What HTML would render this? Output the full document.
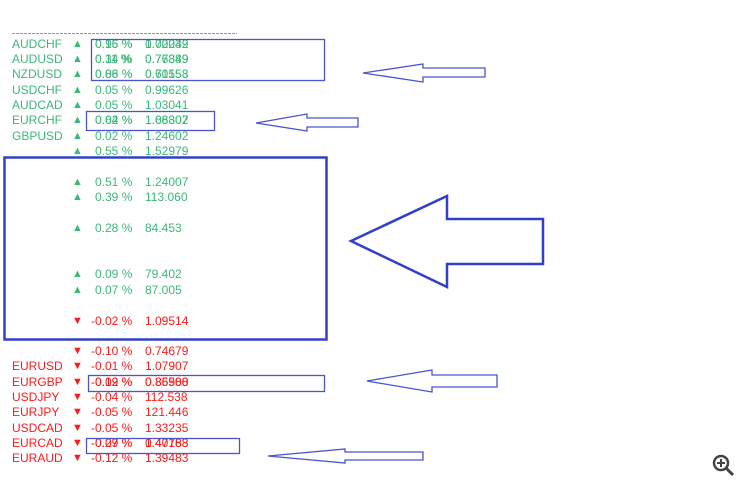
<!DOCTYPE html>
<html><head><meta charset="utf-8"><style>
body{margin:0;width:750px;height:492px;background:#fff;position:relative;overflow:hidden;font-family:"Liberation Sans",sans-serif;font-size:12px}
.t{position:absolute;white-space:pre;line-height:14px}
.g{color:#3cb878}.r{color:#ff1a1a}
</style></head><body>
<div id="c"></div>
<svg width="750" height="492" style="position:absolute;left:0;top:0" fill="none">
<line x1="12" y1="33.5" x2="237" y2="33.5" stroke="#999" stroke-width="1" stroke-dasharray="3,1"/>
<g stroke="#4a55cc" stroke-width="1.3">
<rect x="91.5" y="39.5" width="233" height="41"/>
<rect x="86.5" y="111.5" width="128" height="19"/>
<rect x="88.5" y="375.5" width="236" height="16"/>
<rect x="86.5" y="438.5" width="153" height="15"/>
<polygon points="363,73 423,64 423,68 485,68 485,77 423,77 423,82"/>
<polygon points="256,123 307,114 307,118 358,118 358,127 307,127 307,131"/>
<polygon points="367,381 432,370 432,375 497,375 497,387 432,387 432,392"/>
<polygon points="268,456 345,449 345,452 423,452 423,460 345,460 345,463"/>
</g>
<rect x="4.5" y="157.5" width="322" height="182" stroke="#3040c8" stroke-width="2.5"/>
<polygon points="351,241 447,196 447,219 543,219 543,264 447,264 447,287" stroke="#3040c8" stroke-width="2.5"/>
<circle cx="721" cy="463" r="7" stroke="#444" stroke-width="2.5"/>
<line x1="726" y1="468" x2="733" y2="475" stroke="#444" stroke-width="3"/>
<path d="M717 463h8M721 459v8" stroke="#444" stroke-width="2"/>
</svg>
<script>
var rows=[
[44,'g','AUDCHF',['0.15 %','0.96 %'],['0.70239','1.02042']],
[59,'g','AUDUSD',['0.11 %','0.34 %'],['0.76349','0.77889']],
[74,'g','NZDUSD',['0.06 %','0.88 %'],['0.70153','0.61558']],
[90,'g','USDCHF',['0.05 %'],['0.99626']],
[105,'g','AUDCAD',['0.05 %'],['1.03041']],
[120,'g','EURCHF',['0.04 %','0.62 %'],['1.06307','1.68802']],
[136,'g','GBPUSD',['0.02 %'],['1.24602']],
[151,'g','',['0.55 %'],['1.52979']],
[182,'g','',['0.51 %'],['1.24007']],
[197,'g','',['0.39 %'],['113.060']],
[228,'g','',['0.28 %'],['84.453']],
[274,'g','',['0.09 %'],['79.402']],
[290,'g','',['0.07 %'],['87.005']],
[321,'r','',['-0.02 %'],['1.09514']],
[351,'r','',['-0.10 %'],['0.74679']],
[366,'r','EURUSD',['-0.01 %'],['1.07907']],
[382,'r','EURGBP',['-0.02 %','-0.19 %'],['0.86588','0.85900']],
[397,'r','USDJPY',['-0.04 %'],['112.538']],
[412,'r','EURJPY',['-0.05 %'],['121.446']],
[428,'r','USDCAD',['-0.05 %'],['1.33235']],
[443,'r','EURCAD',['-0.09 %','-0.27 %'],['1.40788','0.47163']],
[458,'r','EURAUD',['-0.12 %'],['1.39483']]];
var h='';
rows.forEach(function(r){var y=r[0]-7,c=r[1];
if(r[2])h+='<div class="t '+c+'" style="left:12px;top:'+y+'px">'+r[2]+'</div>';
h+='<div class="t '+c+'" style="left:72px;top:'+y+'px;font-size:11px">'+(c=='g'?'\u25B2':'\u25BC')+'</div>';
r[3].forEach(function(p){h+='<div class="t '+c+'" style="left:'+(c=='g'?95:91)+'px;top:'+y+'px">'+p+'</div>';});
r[4].forEach(function(p){h+='<div class="t '+c+'" style="left:145px;top:'+y+'px">'+p+'</div>';});});
document.getElementById('c').innerHTML=h;
</script>
</body></html>
